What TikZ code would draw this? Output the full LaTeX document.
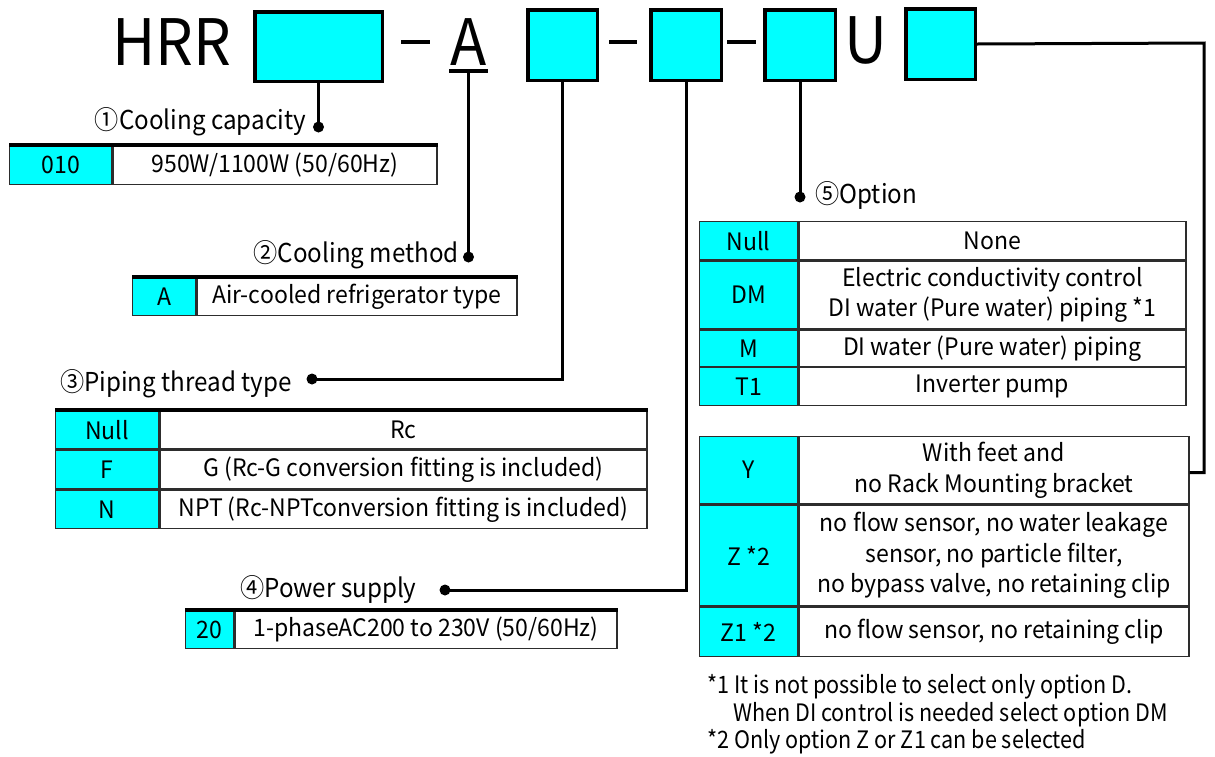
\documentclass[tikz,border=0pt]{standalone}
\usepackage{fontspec}
\setmainfont{Noto Sans CJK JP}
\newfontfamily\tabfont[FakeStretch=0.96]{Noto Sans CJK JP}
\newfontfamily\lblfont[FakeStretch=0.93]{Noto Sans CJK JP}
\newfontfamily\notefont[FakeStretch=0.9]{Noto Sans CJK JP}
\definecolor{aqua}{RGB}{0,255,255}
\definecolor{tline}{RGB}{45,45,45}
\begin{document}
\begin{tikzpicture}[x=1pt,y=-1pt,
 keybox/.style={draw=black, line width=3.5pt, fill=aqua, inner sep=0pt},
 conn/.style={line width=3pt},
 hyph/.style={line width=3.5pt},
 kc/.style={draw=tline, line width=1.3pt, fill=aqua, anchor=north west, inner sep=0pt, align=center, font=\tabfont\fontsize{24}{30.5}\selectfont},
 dc/.style={kc, fill=white},
 toprule/.style={line width=4pt},
 lbl/.style={inner sep=0pt, font=\lblfont\fontsize{26}{30}\selectfont},
 big/.style={inner sep=0pt, font=\lblfont\fontsize{64}{70}\selectfont},
 note/.style={inner sep=0pt, anchor=west, font=\notefont\fontsize{24}{30}\selectfont},
]
\useasboundingbox (0,0) rectangle (1215,756);

% top row
\node[big, anchor=base west] (hrr) at (112,65) {HRR};
\node[keybox, minimum width=127.5, minimum height=69.5] (b1) at (318.5,46.5) {};
\node[keybox, minimum width=69.5, minimum height=70.5] (b2) at (562.5,45) {};
\node[keybox, minimum width=70.5, minimum height=70.5] (b3) at (686,45) {};
\node[keybox, minimum width=70.5, minimum height=70.5] (b4) at (800,45) {};
\node[keybox, minimum width=69.5, minimum height=70.5] (b5) at (940.5,44) {};
\node[big, anchor=base] (a) at (468.5,65) {A};
\node[big, anchor=base] (u) at (866,63) {U};
\draw[hyph] (401,42) -- (430,42);
\draw[hyph] (609,42) -- (637,42);
\draw[hyph] (727,42) -- (756,42);
\draw[line width=4pt] (449,70.5) -- (488,70.5);
\coordinate (au) at (468.5,72);

% dots
\coordinate (d1) at (318.5,127);
\coordinate (d2) at (470,257);
\coordinate (d3) at (312,379);
\coordinate (d4) at (445,590);
\coordinate (d5) at (800,197);
\coordinate (c5) at (1204,43);

% labels
\node[lbl, anchor=base east] (l1) at (306,129) {①Cooling capacity};
\node[lbl, anchor=base east] (l2) at (459,262) {②Cooling method};
\node[lbl, anchor=base west] (l3) at (60,391) {③Piping thread type};
\node[lbl, anchor=base west] (l4) at (240,597) {④Power supply};
\node[lbl, anchor=base west] (l5) at (815,203) {⑤Option};

% table 1
\node[kc, minimum width=102, minimum height=39] (t1k) at (9,145) {010};
\node[dc, minimum width=324, minimum height=39] (t1d) at (t1k.north east) {950W/1100W (50/60Hz)};
\draw[toprule] (t1k.north west) -- (t1d.north east);

% table 2
\node[kc, minimum width=63, minimum height=38] (t2k) at (132,277) {A};
\node[dc, minimum width=320, minimum height=38] (t2d) at (t2k.north east) {Air-cooled refrigerator type};
\draw[toprule] (t2k.north west) -- (t2d.north east);

% table 3
\node[kc, minimum width=103, minimum height=38] (t3k1) at (55,410) {Null};
\node[dc, minimum width=487, minimum height=38] (t3d1) at (t3k1.north east) {Rc};
\node[kc, minimum width=103, minimum height=39] (t3k2) at (t3k1.south west) {F};
\node[dc, minimum width=487, minimum height=39] (t3d2) at (t3k2.north east) {G (Rc-G conversion fitting is included)};
\node[kc, minimum width=103, minimum height=38] (t3k3) at (t3k2.south west) {N};
\node[dc, minimum width=487, minimum height=38] (t3d3) at (t3k3.north east) {NPT (Rc-NPTconversion fitting is included)};
\draw[toprule] (t3k1.north west) -- (t3d1.north east);

% table 4
\node[kc, minimum width=48, minimum height=38] (t4k) at (185,610) {20};
\node[dc, minimum width=382, minimum height=38] (t4d) at (t4k.north east) {1-phaseAC200 to 230V (50/60Hz)};
\draw[toprule] (t4k.north west) -- (t4d.north east);

% table 5a
\node[kc, minimum width=98, minimum height=38] (t5k1) at (699,221) {Null};
\node[dc, minimum width=387, minimum height=38] (t5d1) at (t5k1.north east) {None};
\node[kc, minimum width=98, minimum height=68] (t5k2) at (t5k1.south west) {DM};
\node[dc, minimum width=387, minimum height=68] (t5d2) at (t5k2.north east) {Electric conductivity control\\DI water (Pure water) piping *1};
\node[kc, minimum width=98, minimum height=36] (t5k3) at (t5k2.south west) {M};
\node[dc, minimum width=387, minimum height=36] (t5d3) at (t5k3.north east) {DI water (Pure water) piping};
\node[kc, minimum width=98, minimum height=38] (t5k4) at (t5k3.south west) {T1};
\node[dc, minimum width=387, minimum height=38] (t5d4) at (t5k4.north east) {Inverter pump};

% table 5b
\node[kc, minimum width=98, minimum height=67] (t6k1) at (699,436) {Y};
\node[dc, minimum width=390, minimum height=67] (t6d1) at (t6k1.north east) {With feet and\\no Rack Mounting bracket};
\node[kc, minimum width=98, minimum height=101] (t6k2) at (t6k1.south west) {Z *2};
\node[dc, minimum width=390, minimum height=101] (t6d2) at (t6k2.north east) {no flow sensor, no water leakage\\sensor, no particle filter,\\no bypass valve, no retaining clip};
\node[kc, minimum width=98, minimum height=49] (t6k3) at (t6k2.south west) {Z1 *2};
\node[dc, minimum width=390, minimum height=49] (t6d3) at (t6k3.north east) {no flow sensor, no retaining clip};

% connectors
\coordinate (yin) at ([yshift=-2.5pt]t6d1.east);
\draw[conn] (b1.south) -- (d1);
\draw[conn] (au) -- (au |- d2);
\draw[conn] (b2.south) |- (d3);
\draw[conn] (b3.south) |- (d4);
\draw[conn] (b4.south) -- (d5);
\draw[conn] (b5.east) -- (c5) |- (yin);
\fill (au |- d2) circle (5.5);
\foreach \d in {d1,d3,d4,d5} \fill (\d) circle (5.5);

% notes
\node[note] (n1) at (707,687) {*1 It is not possible to select only option D.};
\node[note] (n2) at (733,715) {When DI control is needed select option DM};
\node[note] (n3) at (707,742) {*2 Only option Z or Z1 can be selected};
\end{tikzpicture}
\end{document}
